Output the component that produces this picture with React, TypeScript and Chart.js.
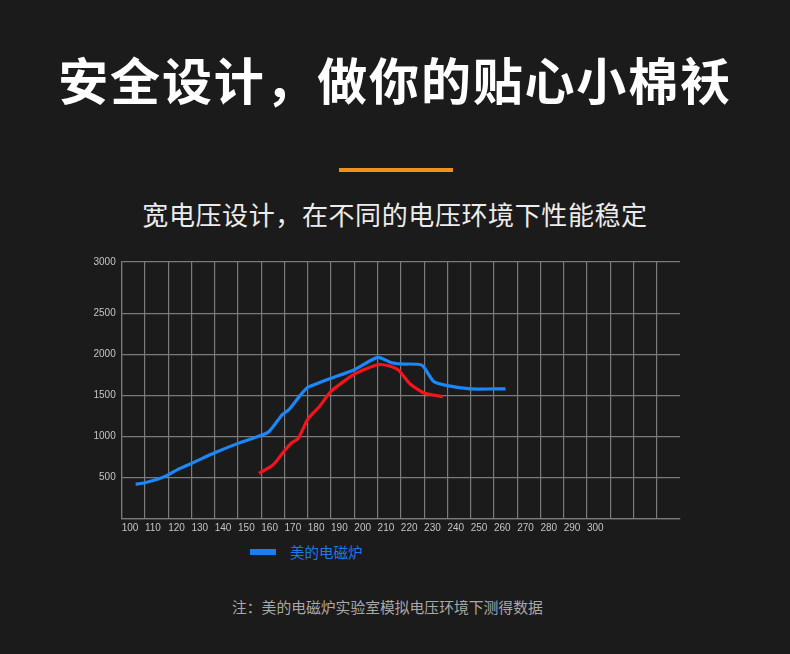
import React, { useEffect, useRef } from 'react';
import { Chart, registerables } from 'chart.js';

Chart.register(...registerables);

// voltage (V) vs power (W)
const blueVoltage = [106, 110, 116, 120, 124, 130, 140, 150, 160, 163, 167, 169, 172, 177, 180, 183, 190, 200, 210, 216, 220, 229, 234, 240, 250, 260, 265];
const bluePower = [415, 435, 484, 530, 595, 670, 800, 915, 1015, 1050, 1190, 1265, 1330, 1510, 1600, 1635, 1710, 1815, 1965, 1900, 1885, 1870, 1675, 1620, 1580, 1580, 1580];
const redVoltage = [159, 165, 170, 173, 176, 180, 185, 190, 200, 210, 215, 219, 224, 230, 238];
const redPower = [550, 650, 825, 920, 980, 1210, 1365, 1550, 1760, 1875, 1860, 1810, 1640, 1530, 1485];

const yTicks = [0, 500, 1000, 1500, 2000, 2500, 3130];
const yTickLabels = ['', '500', '1000', '1500', '2000', '2500', '3000'];
const xLastLabel = 300;

const seriesName = '美的电磁炉';
const gridColor = '#7a7a7a';

const PowerChart: React.FC = () => {
  const chartRef = useRef<HTMLCanvasElement>(null);
  const chartInstance = useRef<Chart>();

  useEffect(() => {
    if (!chartRef.current) return;
    chartInstance.current = new Chart(chartRef.current, {
      type: 'line',
      data: {
        datasets: [
          {
            label: seriesName,
            data: blueVoltage.map((x, i) => ({ x, y: bluePower[i] })),
            borderColor: '#1a88f8',
            borderWidth: 3.2,
            pointRadius: 0,
            tension: 0.2,
          },
          {
            label: 'red',
            data: redVoltage.map((x, i) => ({ x, y: redPower[i] })),
            borderColor: '#f5141c',
            borderWidth: 3.2,
            pointRadius: 0,
            tension: 0.2,
          },
        ],
      },
      options: {
        responsive: false,
        animation: false,
        layout: { padding: { top: 10, right: 10, left: 0, bottom: 0 } },
        plugins: { legend: { display: false }, tooltip: { enabled: false } },
        scales: {
          x: {
            type: 'linear',
            min: 100,
            max: 340,
            afterFit: (scale: any) => {
              scale.height = 21.7;
            },
            ticks: {
              stepSize: 10,
              autoSkip: false,
              maxRotation: 0,
              align: 'start',
              padding: 4,
              color: '#c4c4c4',
              font: { family: 'Liberation Sans', size: 10 },
              callback: (v: any) => (v > xLastLabel ? '' : String(v)),
            },
            grid: {
              drawTicks: false,
              color: (ctx: any) => (ctx.tick && ctx.tick.value >= 340 ? 'rgba(0,0,0,0)' : gridColor),
              lineWidth: 1.2,
            },
            border: { color: gridColor, width: 1.2 },
          },
          y: {
            type: 'linear',
            min: 0,
            max: 3130,
            afterBuildTicks: (scale: any) => {
              scale.ticks = yTicks.map((value) => ({ value }));
            },
            afterFit: (scale: any) => {
              scale.width = 41.7;
            },
            ticks: {
              padding: 6,
              color: '#c4c4c4',
              font: { family: 'Liberation Sans', size: 10 },
              callback: (_v: any, i: number) => yTickLabels[i],
            },
            grid: { drawTicks: false, color: gridColor, lineWidth: 1.2 },
            border: { color: gridColor, width: 1.2 },
          },
        },
      },
    });

    return () => {
      if (chartInstance.current) chartInstance.current.destroy();
    };
  }, []);

  return <canvas ref={chartRef} width={610} height={290} />;
};

const cjk = '"Noto Sans CJK SC", "Noto Sans", sans-serif';

export default function App() {
  return (
    <div
      style={{
        position: 'absolute',
        left: 0,
        top: 0,
        width: 790,
        height: 654,
        overflow: 'hidden',
        background: '#1c1b1b',
        fontFamily: cjk,
      }}
    >
      <div
        style={{
          position: 'absolute',
          top: 52,
          left: 0,
          width: 790,
          textAlign: 'center',
          color: '#ffffff',
          fontSize: 50,
          fontWeight: 700,
          lineHeight: '52px',
          letterSpacing: 1.8,
        }}
      >
        安全设计，做你的贴心小棉袄
      </div>
      <div style={{ position: 'absolute', left: 339, top: 168, width: 114, height: 4, background: '#f0901e' }} />
      <div
        style={{
          position: 'absolute',
          top: 200,
          left: 0,
          width: 790,
          textAlign: 'center',
          color: '#ececec',
          fontSize: 26,
          lineHeight: '27px',
          letterSpacing: 0.6,
        }}
      >
        宽电压设计，在不同的电压环境下性能稳定
      </div>
      <div style={{ position: 'absolute', left: 80, top: 250, width: 610, height: 290 }}>
        <PowerChart />
      </div>
      <div style={{ position: 'absolute', left: 250, top: 549, width: 26, height: 6, background: '#1a7ef2' }} />
      <div
        style={{
          position: 'absolute',
          left: 290,
          top: 543,
          color: '#1f78e8',
          fontSize: 14.5,
          lineHeight: '18px',
        }}
      >
        {seriesName}
      </div>
      <div
        style={{
          position: 'absolute',
          left: 232,
          top: 598,
          color: '#a8a8a8',
          fontSize: 14.8,
          lineHeight: '18px',
          whiteSpace: 'nowrap',
        }}
      >
        注：美的电磁炉实验室模拟电压环境下测得数据
      </div>
    </div>
  );
}
